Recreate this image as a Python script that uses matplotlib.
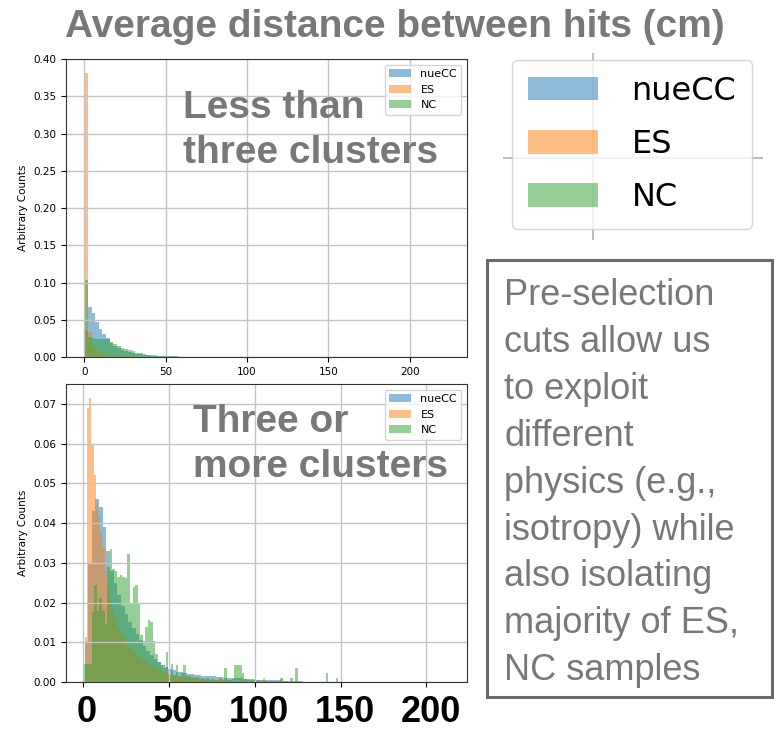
import matplotlib.pyplot as plt
import numpy as np
from matplotlib.patches import Patch, Rectangle
from matplotlib.transforms import ScaledTranslation

plt.rcParams['font.family'] = 'DejaVu Sans'

labels = ['nueCC', 'ES', 'NC']
colors = ['tab:blue', 'tab:orange', 'tab:green']

# ---- top panel : less than three clusters (bin start, bin width, heights) ----
top_start = 0.0
top_width = 2.24
top_nuecc = [0.035, 0.0675, 0.0585, 0.047, 0.038, 0.031, 0.025, 0.019, 0.015, 0.012,
             0.0095, 0.0078, 0.0064, 0.0053, 0.0044, 0.0036, 0.003, 0.0025, 0.002, 0.0017,
             0.0014, 0.0012, 0.001, 0.0008, 0.0007, 0.0006, 0.0005, 0.0004, 0.0004, 0.0003,
             0.0003, 0.0002, 0.0002, 0.0002, 0.0001, 0.0001, 0.0001, 0.0, 0.0001, 0.0,
             0.0, 0.0, 0.0, 0.0, 0.0, 0.0, 0.0, 0.0, 0.0, 0.0,
             0.0, 0.0, 0.0, 0.0, 0.0, 0.0, 0.0, 0.0, 0.0, 0.0,
             0.0, 0.0, 0.0, 0.0, 0.0, 0.0, 0.0, 0.0, 0.0, 0.0,
             0.0, 0.0, 0.0, 0.0, 0.0, 0.0, 0.0, 0.0, 0.0, 0.0,
             0.0, 0.0, 0.0, 0.0, 0.0, 0.0, 0.0, 0.0, 0.0, 0.0,
             0.0, 0.0, 0.0, 0.0, 0.0, 0.0, 0.0, 0.0, 0.0, 0.0001]
top_es = [0.381, 0.034, 0.014, 0.009, 0.006, 0.0045, 0.0035, 0.0028, 0.0022, 0.0018,
          0.0014, 0.0011, 0.0009, 0.0007, 0.0006, 0.0005, 0.0004, 0.0003, 0.0003, 0.0002,
          0.0002, 0.0001]
top_nc = [0.103, 0.027, 0.025, 0.0245, 0.0245, 0.0245, 0.024, 0.020, 0.017, 0.0145,
          0.012, 0.0105, 0.009, 0.0075, 0.006, 0.005, 0.004, 0.0033, 0.0027, 0.0022,
          0.0018, 0.0014, 0.0012, 0.0010, 0.0008, 0.0007, 0.0006, 0.0005, 0.0004, 0.0004,
          0.0003, 0.0003, 0.0002, 0.0002, 0.0002, 0.0001, 0.0002, 0.0001, 0.0001, 0.0002,
          0.0001, 0.0001, 0.0001, 0.0, 0.0002, 0.0001, 0.0, 0.0001, 0.0, 0.0,
          0.0001, 0.0, 0.0001, 0.0]

# ---- bottom panel : three or more clusters ----
bot_nuecc_start, bot_nuecc_width = 1.0, 2.12
bot_nuecc = [0.010, 0.030, 0.043, 0.046, 0.044, 0.039, 0.033, 0.028, 0.025, 0.022,
             0.019, 0.017, 0.015, 0.0135, 0.012, 0.0105, 0.009, 0.0078, 0.0068, 0.0058,
             0.005, 0.0043, 0.0038, 0.0033, 0.0029, 0.0026, 0.0024, 0.0022, 0.0020, 0.0019,
             0.0018, 0.0017, 0.0016, 0.0015, 0.0015, 0.0014, 0.0013, 0.0012, 0.0011, 0.0011,
             0.0010, 0.0009, 0.0009, 0.0008, 0.0008, 0.0007, 0.0007, 0.0006, 0.0006, 0.0005,
             0.0005, 0.0004, 0.0004, 0.0004, 0.0003, 0.0003, 0.0002, 0.0002, 0.0002, 0.0002,
             0.0001, 0.0001, 0.0001, 0.0001, 0.0001, 0.0, 0.0001, 0.0, 0.0, 0.0001,
             0.0, 0.0, 0.0, 0.0, 0.0, 0.0, 0.0, 0.0, 0.0, 0.0,
             0.0, 0.0, 0.0, 0.0, 0.0, 0.0, 0.0, 0.0, 0.0, 0.0,
             0.0, 0.0, 0.0, 0.0, 0.0, 0.0, 0.0, 0.0, 0.0, 0.0001]
bot_es_start, bot_es_width = 1.0, 1.3
bot_es = [0.0114, 0.069, 0.0714, 0.060, 0.052, 0.045, 0.042, 0.038, 0.034, 0.028,
          0.024, 0.021, 0.018, 0.0165, 0.015, 0.0135, 0.012, 0.011, 0.010, 0.009,
          0.0085, 0.008, 0.0075, 0.007, 0.0065, 0.006, 0.0056, 0.0052, 0.0048, 0.0044,
          0.004, 0.0037, 0.0034, 0.0031, 0.0028, 0.0026, 0.0024, 0.0022, 0.002, 0.0018,
          0.0017, 0.0016, 0.0015, 0.0014, 0.0013, 0.0012, 0.0012, 0.0011, 0.0010, 0.0010,
          0.0009, 0.0009, 0.0008, 0.0008, 0.0007, 0.0007, 0.0006, 0.0006, 0.0006, 0.0005,
          0.0013, 0.0005, 0.0004, 0.0004, 0.0004, 0.0003, 0.0003, 0.0003, 0.0003, 0.0002,
          0.0012, 0.0002, 0.0002, 0.0002, 0.0002, 0.0002, 0.0001, 0.0001, 0.0001, 0.0001,
          0.0010, 0.0001, 0.0001, 0.0001, 0.0, 0.0001, 0.0, 0.0, 0.0008, 0.0,
          0.0, 0.0, 0.0, 0.0, 0.0, 0.0, 0.0, 0.0, 0.0, 0.0001]
bot_nc_start, bot_nc_width = 0.8, 1.48
bot_nc = [0.0045, 0.0045, 0.0045, 0.0175, 0.0245, 0.0178, 0.0212, 0.0178, 0.0145, 0.0290,
          0.0335, 0.0285, 0.0280, 0.0265, 0.0270, 0.0265, 0.0262, 0.0322, 0.0195, 0.0240,
          0.0245, 0.0195, 0.0118, 0.0103, 0.0138, 0.0157, 0.0150, 0.0103, 0.0070, 0.0050,
          0.0042, 0.0036, 0.0076, 0.0018, 0.0045, 0.0018, 0.0043, 0.0015, 0.0022, 0.0043,
          0.0015, 0.0014, 0.0012, 0.0010, 0.0012, 0.0008, 0.0010, 0.0008, 0.0011, 0.0006,
          0.0008, 0.0006, 0.0005, 0.0007, 0.0006, 0.0034, 0.0006, 0.0005, 0.0007, 0.0043,
          0.0043, 0.0043, 0.0022, 0.0008, 0.0006, 0.0005, 0.0004, 0.0005, 0.0004, 0.0003,
          0.0004, 0.0003, 0.0003, 0.0002, 0.0003, 0.0002, 0.0002, 0.0011, 0.0002, 0.0002,
          0.0, 0.0011, 0.0, 0.0034, 0.0, 0.0, 0.0, 0.0, 0.0, 0.0,
          0.0, 0.0, 0.0, 0.0, 0.0, 0.0022, 0.0, 0.0, 0.0, 0.0011]

box_lines = ['Pre-selection', 'cuts allow us', 'to exploit', 'different',
             'physics (e.g.,', 'isotropy) while', 'also isolating',
             'majority of ES,', 'NC samples']

W, H = 774, 730
GREY = '#787878'


def fx(px):
    return px / W


def fy(py):
    return 1 - py / H


def draw_hist(ax, start, width, heights, color, label):
    edges = start + width * np.arange(len(heights) + 1)
    ax.hist(edges[:-1], bins=edges, weights=heights, color=color, alpha=0.5, label=label)


fig = plt.figure(figsize=(7.74, 7.30), dpi=100)

ax1 = fig.add_axes([fx(66), fy(357), fx(467) - fx(66), fy(59) - fy(357)])
ax2 = fig.add_axes([fx(66), fy(682), fx(467) - fx(66), fy(384) - fy(682)])

top_series = [(top_start, top_width, top_nuecc), (top_start, top_width, top_es),
              (top_start, top_width, top_nc)]
bot_series = [(bot_nuecc_start, bot_nuecc_width, bot_nuecc),
              (bot_es_start, bot_es_width, bot_es),
              (bot_nc_start, bot_nc_width, bot_nc)]

for ax, series in [(ax1, top_series), (ax2, bot_series)]:
    for (start, width, h), c, lab in zip(series, colors, labels):
        draw_hist(ax, start, width, h, c, lab)
    ax.grid(True, color='#c4c4c4', lw=1.0)
    ax.set_ylabel('Arbitrary Counts', fontsize=7.5)
    ax.tick_params(labelsize=7.5)
    ax.legend(loc='upper right', fontsize=8)
    for sp in ax.spines.values():
        sp.set_color('#333333')

ax1.set_yticks(np.arange(0, 0.401, 0.05))
ax1.yaxis.set_major_formatter('{x:.2f}')
ax1.set_xticks([0, 50, 100, 150, 200])
ax2.set_yticks(np.arange(0, 0.0701, 0.01))
ax2.yaxis.set_major_formatter('{x:.2f}')
ax2.set_xticks([0, 50, 100, 150, 200])
ax2.set_xticklabels(['0', '50', '100', '150', '200'], fontsize=26,
                    fontweight='bold', family='Liberation Sans')
ax2.tick_params(axis='x', pad=5.5)
shift = ScaledTranslation(4 / 100, 0, fig.dpi_scale_trans)
for lbl in ax2.get_xticklabels():
    lbl.set_transform(lbl.get_transform() + shift)

# slide annotations
fig.text(fx(395), fy(37), 'Average distance between hits (cm)', fontsize=28,
         fontweight='bold', color=GREY, family='Liberation Sans', ha='center', va='baseline')
for txt, px, py in [('Less than', 183, 118), ('three clusters', 183, 163),
                    ('Three or', 193, 432), ('more clusters', 193, 477)]:
    fig.text(fx(px), fy(py), txt, fontsize=28, fontweight='bold', color=GREY,
             family='Liberation Sans', va='baseline')

# enlarged legend on the right
ax3 = fig.add_axes([fx(503), fy(240), fx(763) - fx(503), fy(53) - fy(240)])
ax3.set_xlim(0, 1)
ax3.set_ylim(0, 1)
ax3.axis('off')
ax3.plot([0.346, 0.346], [0, 1], color='#b0b0b0', lw=1.2)
ax3.plot([0, 1], [0.4385, 0.4385], color='#b0b0b0', lw=1.2)
handles = [Patch(facecolor=c, alpha=0.5, label=l) for c, l in zip(colors, labels)]
ax3.legend(handles=handles, loc='center', bbox_to_anchor=(0.496, 0.511), fontsize=23,
           handlelength=2.2, handleheight=0.75, handletextpad=1.05,
           labelspacing=0.69, borderpad=0.5)

# text box
fig.add_artist(Rectangle((fx(487), fy(697)), fx(772) - fx(487), fy(260) - fy(697),
                         transform=fig.transFigure, fill=False, edgecolor='#6a6a6a', lw=2.2))
for i, line in enumerate(box_lines):
    fig.text(fx(504), fy(305 + 46.9 * i), line, fontsize=26, color=GREY,
             family='Liberation Sans', va='baseline')

fig.savefig('out.png', dpi=100)
